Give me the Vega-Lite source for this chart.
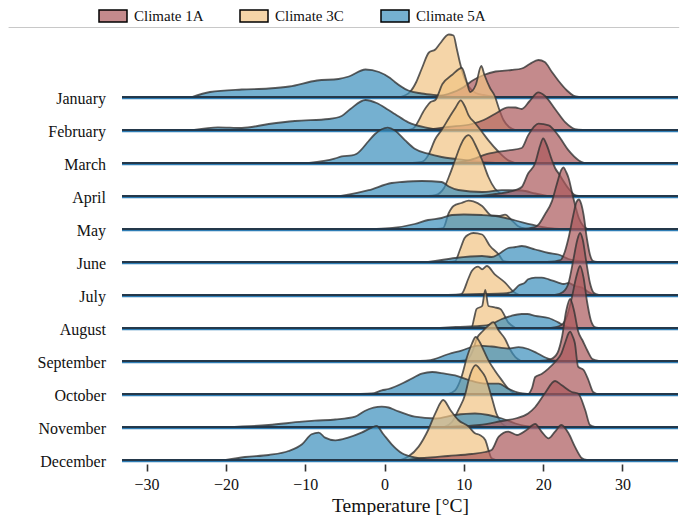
{
"$schema": "https://vega.github.io/schema/vega-lite/v6.json",
"padding": {"left": 7, "top": 0, "right": 0, "bottom": 0},
"bounds": "flush",
"config": {"view": {"stroke": null}, "font": "Liberation Serif"},
"data": {"values": [
{"m":"January","c":"Climate 5A","t":-24.3,"d":0},{"m":"January","c":"Climate 5A","t":-22,"d":0.05},{"m":"January","c":"Climate 5A","t":-18,"d":0.075},{"m":"January","c":"Climate 5A","t":-14.6,"d":0.085},{"m":"January","c":"Climate 5A","t":-12,"d":0.105},{"m":"January","c":"Climate 5A","t":-8.5,"d":0.165},{"m":"January","c":"Climate 5A","t":-5.8,"d":0.18},{"m":"January","c":"Climate 5A","t":-4.5,"d":0.205},{"m":"January","c":"Climate 5A","t":-2.4,"d":0.275},{"m":"January","c":"Climate 5A","t":-0.7,"d":0.25},{"m":"January","c":"Climate 5A","t":0.7,"d":0.19},{"m":"January","c":"Climate 5A","t":1.3,"d":0.15},{"m":"January","c":"Climate 5A","t":3,"d":0.065},{"m":"January","c":"Climate 5A","t":4.7,"d":0.035},{"m":"January","c":"Climate 5A","t":6.8,"d":0.015},{"m":"January","c":"Climate 5A","t":8.5,"d":0},
{"m":"January","c":"Climate 3C","t":2,"d":0},{"m":"January","c":"Climate 3C","t":3.2,"d":0.05},{"m":"January","c":"Climate 3C","t":4,"d":0.15},{"m":"January","c":"Climate 3C","t":4.7,"d":0.285},{"m":"January","c":"Climate 3C","t":5.6,"d":0.445},{"m":"January","c":"Climate 3C","t":6.4,"d":0.475},{"m":"January","c":"Climate 3C","t":7,"d":0.535},{"m":"January","c":"Climate 3C","t":8.1,"d":0.625},{"m":"January","c":"Climate 3C","t":8.7,"d":0.615},{"m":"January","c":"Climate 3C","t":9.1,"d":0.485},{"m":"January","c":"Climate 3C","t":9.5,"d":0.345},{"m":"January","c":"Climate 3C","t":10.1,"d":0.185},{"m":"January","c":"Climate 3C","t":10.7,"d":0.095},{"m":"January","c":"Climate 3C","t":11.5,"d":0.04},{"m":"January","c":"Climate 3C","t":12.5,"d":0.02},{"m":"January","c":"Climate 3C","t":14,"d":0},
{"m":"January","c":"Climate 1A","t":6,"d":0},{"m":"January","c":"Climate 1A","t":8,"d":0.03},{"m":"January","c":"Climate 1A","t":10,"d":0.1},{"m":"January","c":"Climate 1A","t":11,"d":0.16},{"m":"January","c":"Climate 1A","t":12.5,"d":0.22},{"m":"January","c":"Climate 1A","t":14,"d":0.255},{"m":"January","c":"Climate 1A","t":16,"d":0.27},{"m":"January","c":"Climate 1A","t":17.3,"d":0.285},{"m":"January","c":"Climate 1A","t":18.3,"d":0.33},{"m":"January","c":"Climate 1A","t":19.4,"d":0.37},{"m":"January","c":"Climate 1A","t":20.2,"d":0.35},{"m":"January","c":"Climate 1A","t":21.1,"d":0.25},{"m":"January","c":"Climate 1A","t":21.9,"d":0.165},{"m":"January","c":"Climate 1A","t":23,"d":0.065},{"m":"January","c":"Climate 1A","t":23.8,"d":0.015},{"m":"January","c":"Climate 1A","t":24.5,"d":0},
{"m":"February","c":"Climate 5A","t":-24,"d":0},{"m":"February","c":"Climate 5A","t":-21,"d":0.026},{"m":"February","c":"Climate 5A","t":-18,"d":0.02},{"m":"February","c":"Climate 5A","t":-14.6,"d":0.06},{"m":"February","c":"Climate 5A","t":-11.3,"d":0.09},{"m":"February","c":"Climate 5A","t":-7,"d":0.11},{"m":"February","c":"Climate 5A","t":-5.4,"d":0.14},{"m":"February","c":"Climate 5A","t":-4.3,"d":0.21},{"m":"February","c":"Climate 5A","t":-2.4,"d":0.3},{"m":"February","c":"Climate 5A","t":-1,"d":0.27},{"m":"February","c":"Climate 5A","t":0.5,"d":0.2},{"m":"February","c":"Climate 5A","t":1.3,"d":0.16},{"m":"February","c":"Climate 5A","t":3,"d":0.076},{"m":"February","c":"Climate 5A","t":5.1,"d":0.026},{"m":"February","c":"Climate 5A","t":7.2,"d":0.003},{"m":"February","c":"Climate 5A","t":8,"d":0},
{"m":"February","c":"Climate 3C","t":3,"d":0},{"m":"February","c":"Climate 3C","t":3.6,"d":0.015},{"m":"February","c":"Climate 3C","t":5.1,"d":0.21},{"m":"February","c":"Climate 3C","t":5.8,"d":0.28},{"m":"February","c":"Climate 3C","t":6.4,"d":0.3},{"m":"February","c":"Climate 3C","t":7.3,"d":0.46},{"m":"February","c":"Climate 3C","t":8.5,"d":0.55},{"m":"February","c":"Climate 3C","t":9.75,"d":0.62},{"m":"February","c":"Climate 3C","t":10.3,"d":0.5},{"m":"February","c":"Climate 3C","t":10.8,"d":0.38},{"m":"February","c":"Climate 3C","t":11.5,"d":0.45},{"m":"February","c":"Climate 3C","t":12.2,"d":0.64},{"m":"February","c":"Climate 3C","t":12.6,"d":0.55},{"m":"February","c":"Climate 3C","t":13.3,"d":0.42},{"m":"February","c":"Climate 3C","t":13.9,"d":0.34},{"m":"February","c":"Climate 3C","t":14.4,"d":0.22},{"m":"February","c":"Climate 3C","t":15,"d":0.1},{"m":"February","c":"Climate 3C","t":15.7,"d":0.03},{"m":"February","c":"Climate 3C","t":16.5,"d":0},
{"m":"February","c":"Climate 1A","t":5,"d":0},{"m":"February","c":"Climate 1A","t":8,"d":0.03},{"m":"February","c":"Climate 1A","t":11,"d":0.06},{"m":"February","c":"Climate 1A","t":12.5,"d":0.1},{"m":"February","c":"Climate 1A","t":13.9,"d":0.16},{"m":"February","c":"Climate 1A","t":15.6,"d":0.226},{"m":"February","c":"Climate 1A","t":16.5,"d":0.225},{"m":"February","c":"Climate 1A","t":17.3,"d":0.21},{"m":"February","c":"Climate 1A","t":18.3,"d":0.29},{"m":"February","c":"Climate 1A","t":19.4,"d":0.376},{"m":"February","c":"Climate 1A","t":20.2,"d":0.343},{"m":"February","c":"Climate 1A","t":21.5,"d":0.21},{"m":"February","c":"Climate 1A","t":22.8,"d":0.076},{"m":"February","c":"Climate 1A","t":24,"d":0.01},{"m":"February","c":"Climate 1A","t":25,"d":0},
{"m":"March","c":"Climate 5A","t":-9.5,"d":0},{"m":"March","c":"Climate 5A","t":-6.3,"d":0.043},{"m":"March","c":"Climate 5A","t":-5.4,"d":0.066},{"m":"March","c":"Climate 5A","t":-4.1,"d":0.076},{"m":"March","c":"Climate 5A","t":-3.5,"d":0.093},{"m":"March","c":"Climate 5A","t":-2,"d":0.22},{"m":"March","c":"Climate 5A","t":-1.2,"d":0.29},{"m":"March","c":"Climate 5A","t":0.4,"d":0.353},{"m":"March","c":"Climate 5A","t":1.3,"d":0.326},{"m":"March","c":"Climate 5A","t":2.6,"d":0.226},{"m":"March","c":"Climate 5A","t":3.8,"d":0.143},{"m":"March","c":"Climate 5A","t":5.5,"d":0.093},{"m":"March","c":"Climate 5A","t":7.2,"d":0.06},{"m":"March","c":"Climate 5A","t":9,"d":0.04},{"m":"March","c":"Climate 5A","t":11,"d":0.02},{"m":"March","c":"Climate 5A","t":14,"d":0},
{"m":"March","c":"Climate 3C","t":3.5,"d":0},{"m":"March","c":"Climate 3C","t":4.7,"d":0.01},{"m":"March","c":"Climate 3C","t":5.5,"d":0.076},{"m":"March","c":"Climate 3C","t":6.4,"d":0.24},{"m":"March","c":"Climate 3C","t":7.2,"d":0.33},{"m":"March","c":"Climate 3C","t":8.2,"d":0.46},{"m":"March","c":"Climate 3C","t":9,"d":0.56},{"m":"March","c":"Climate 3C","t":9.6,"d":0.626},{"m":"March","c":"Climate 3C","t":10.1,"d":0.57},{"m":"March","c":"Climate 3C","t":10.6,"d":0.476},{"m":"March","c":"Climate 3C","t":11.4,"d":0.4},{"m":"March","c":"Climate 3C","t":12.3,"d":0.31},{"m":"March","c":"Climate 3C","t":13.1,"d":0.226},{"m":"March","c":"Climate 3C","t":14.4,"d":0.11},{"m":"March","c":"Climate 3C","t":15.6,"d":0.026},{"m":"March","c":"Climate 3C","t":16.5,"d":0},
{"m":"March","c":"Climate 1A","t":9,"d":0},{"m":"March","c":"Climate 1A","t":10.6,"d":0.026},{"m":"March","c":"Climate 1A","t":13.1,"d":0.093},{"m":"March","c":"Climate 1A","t":15.6,"d":0.126},{"m":"March","c":"Climate 1A","t":17.3,"d":0.15},{"m":"March","c":"Climate 1A","t":18.1,"d":0.276},{"m":"March","c":"Climate 1A","t":19.4,"d":0.393},{"m":"March","c":"Climate 1A","t":20.7,"d":0.376},{"m":"March","c":"Climate 1A","t":21.9,"d":0.276},{"m":"March","c":"Climate 1A","t":23.2,"d":0.126},{"m":"March","c":"Climate 1A","t":24.5,"d":0.026},{"m":"March","c":"Climate 1A","t":25.2,"d":0},
{"m":"April","c":"Climate 5A","t":-5.5,"d":0},{"m":"April","c":"Climate 5A","t":-2,"d":0.058},{"m":"April","c":"Climate 5A","t":0.9,"d":0.13},{"m":"April","c":"Climate 5A","t":2.2,"d":0.14},{"m":"April","c":"Climate 5A","t":4.7,"d":0.15},{"m":"April","c":"Climate 5A","t":7.2,"d":0.14},{"m":"April","c":"Climate 5A","t":8.1,"d":0.095},{"m":"April","c":"Climate 5A","t":9.3,"d":0.06},{"m":"April","c":"Climate 5A","t":12.3,"d":0.04},{"m":"April","c":"Climate 5A","t":14.8,"d":0.058},{"m":"April","c":"Climate 5A","t":17.3,"d":0.055},{"m":"April","c":"Climate 5A","t":19,"d":0.025},{"m":"April","c":"Climate 5A","t":20.5,"d":0},
{"m":"April","c":"Climate 3C","t":5.5,"d":0},{"m":"April","c":"Climate 3C","t":6.4,"d":0.008},{"m":"April","c":"Climate 3C","t":7.5,"d":0.08},{"m":"April","c":"Climate 3C","t":8.1,"d":0.19},{"m":"April","c":"Climate 3C","t":8.9,"d":0.36},{"m":"April","c":"Climate 3C","t":9.5,"d":0.49},{"m":"April","c":"Climate 3C","t":10,"d":0.57},{"m":"April","c":"Climate 3C","t":10.6,"d":0.608},{"m":"April","c":"Climate 3C","t":11,"d":0.58},{"m":"April","c":"Climate 3C","t":11.4,"d":0.52},{"m":"April","c":"Climate 3C","t":12.3,"d":0.36},{"m":"April","c":"Climate 3C","t":13.1,"d":0.19},{"m":"April","c":"Climate 3C","t":13.9,"d":0.075},{"m":"April","c":"Climate 3C","t":14.6,"d":0.025},{"m":"April","c":"Climate 3C","t":15.5,"d":0},
{"m":"April","c":"Climate 1A","t":12,"d":0},{"m":"April","c":"Climate 1A","t":14,"d":0.02},{"m":"April","c":"Climate 1A","t":16.5,"d":0.058},{"m":"April","c":"Climate 1A","t":17.3,"d":0.09},{"m":"April","c":"Climate 1A","t":18.1,"d":0.225},{"m":"April","c":"Climate 1A","t":19,"d":0.33},{"m":"April","c":"Climate 1A","t":19.6,"d":0.5},{"m":"April","c":"Climate 1A","t":20,"d":0.575},{"m":"April","c":"Climate 1A","t":20.4,"d":0.52},{"m":"April","c":"Climate 1A","t":21.1,"d":0.36},{"m":"April","c":"Climate 1A","t":21.5,"d":0.28},{"m":"April","c":"Climate 1A","t":22,"d":0.22},{"m":"April","c":"Climate 1A","t":23.2,"d":0.075},{"m":"April","c":"Climate 1A","t":24,"d":0.01},{"m":"April","c":"Climate 1A","t":24.5,"d":0},
{"m":"May","c":"Climate 5A","t":-1,"d":0},{"m":"May","c":"Climate 5A","t":1,"d":0.01},{"m":"May","c":"Climate 5A","t":3.8,"d":0.05},{"m":"May","c":"Climate 5A","t":5.5,"d":0.09},{"m":"May","c":"Climate 5A","t":7.2,"d":0.11},{"m":"May","c":"Climate 5A","t":8.5,"d":0.14},{"m":"May","c":"Climate 5A","t":10,"d":0.145},{"m":"May","c":"Climate 5A","t":12.3,"d":0.14},{"m":"May","c":"Climate 5A","t":14.4,"d":0.125},{"m":"May","c":"Climate 5A","t":16.5,"d":0.085},{"m":"May","c":"Climate 5A","t":18.6,"d":0.043},{"m":"May","c":"Climate 5A","t":20.2,"d":0.015},{"m":"May","c":"Climate 5A","t":22,"d":0},
{"m":"May","c":"Climate 3C","t":6.5,"d":0},{"m":"May","c":"Climate 3C","t":7.4,"d":0.01},{"m":"May","c":"Climate 3C","t":8.1,"d":0.16},{"m":"May","c":"Climate 3C","t":8.7,"d":0.23},{"m":"May","c":"Climate 3C","t":9.7,"d":0.26},{"m":"May","c":"Climate 3C","t":10.6,"d":0.283},{"m":"May","c":"Climate 3C","t":11.2,"d":0.276},{"m":"May","c":"Climate 3C","t":12.3,"d":0.23},{"m":"May","c":"Climate 3C","t":13.5,"d":0.135},{"m":"May","c":"Climate 3C","t":14.4,"d":0.13},{"m":"May","c":"Climate 3C","t":15.2,"d":0.143},{"m":"May","c":"Climate 3C","t":16,"d":0.09},{"m":"May","c":"Climate 3C","t":16.8,"d":0.03},{"m":"May","c":"Climate 3C","t":17.8,"d":0},
{"m":"May","c":"Climate 1A","t":17,"d":0},{"m":"May","c":"Climate 1A","t":19,"d":0.02},{"m":"May","c":"Climate 1A","t":19.4,"d":0.043},{"m":"May","c":"Climate 1A","t":20.2,"d":0.143},{"m":"May","c":"Climate 1A","t":21.1,"d":0.276},{"m":"May","c":"Climate 1A","t":21.7,"d":0.443},{"m":"May","c":"Climate 1A","t":22.3,"d":0.593},{"m":"May","c":"Climate 1A","t":22.55,"d":0.616},{"m":"May","c":"Climate 1A","t":22.9,"d":0.57},{"m":"May","c":"Climate 1A","t":23.2,"d":0.51},{"m":"May","c":"Climate 1A","t":23.8,"d":0.31},{"m":"May","c":"Climate 1A","t":24.5,"d":0.11},{"m":"May","c":"Climate 1A","t":25.1,"d":0.026},{"m":"May","c":"Climate 1A","t":25.6,"d":0},
{"m":"June","c":"Climate 5A","t":5.5,"d":0},{"m":"June","c":"Climate 5A","t":6.4,"d":0.01},{"m":"June","c":"Climate 5A","t":8.9,"d":0.04},{"m":"June","c":"Climate 5A","t":12.3,"d":0.06},{"m":"June","c":"Climate 5A","t":13.5,"d":0.05},{"m":"June","c":"Climate 5A","t":14.4,"d":0.08},{"m":"June","c":"Climate 5A","t":15.6,"d":0.14},{"m":"June","c":"Climate 5A","t":16.5,"d":0.15},{"m":"June","c":"Climate 5A","t":17.3,"d":0.16},{"m":"June","c":"Climate 5A","t":19,"d":0.125},{"m":"June","c":"Climate 5A","t":20.7,"d":0.09},{"m":"June","c":"Climate 5A","t":21.9,"d":0.075},{"m":"June","c":"Climate 5A","t":23.2,"d":0.03},{"m":"June","c":"Climate 5A","t":24.5,"d":0.01},{"m":"June","c":"Climate 5A","t":26,"d":0},
{"m":"June","c":"Climate 3C","t":8,"d":0},{"m":"June","c":"Climate 3C","t":8.9,"d":0.01},{"m":"June","c":"Climate 3C","t":9.5,"d":0.12},{"m":"June","c":"Climate 3C","t":10.1,"d":0.24},{"m":"June","c":"Climate 3C","t":10.6,"d":0.275},{"m":"June","c":"Climate 3C","t":11.2,"d":0.29},{"m":"June","c":"Climate 3C","t":12.3,"d":0.275},{"m":"June","c":"Climate 3C","t":13.3,"d":0.16},{"m":"June","c":"Climate 3C","t":14.4,"d":0.075},{"m":"June","c":"Climate 3C","t":15,"d":0.01},{"m":"June","c":"Climate 3C","t":15.8,"d":0},
{"m":"June","c":"Climate 1A","t":20.5,"d":0},{"m":"June","c":"Climate 1A","t":22.2,"d":0.02},{"m":"June","c":"Climate 1A","t":22.6,"d":0.073},{"m":"June","c":"Climate 1A","t":23.2,"d":0.24},{"m":"June","c":"Climate 1A","t":23.8,"d":0.47},{"m":"June","c":"Climate 1A","t":24.2,"d":0.6},{"m":"June","c":"Climate 1A","t":24.5,"d":0.625},{"m":"June","c":"Climate 1A","t":24.8,"d":0.58},{"m":"June","c":"Climate 1A","t":25.1,"d":0.47},{"m":"June","c":"Climate 1A","t":25.5,"d":0.24},{"m":"June","c":"Climate 1A","t":25.9,"d":0.073},{"m":"June","c":"Climate 1A","t":26.3,"d":0.01},{"m":"June","c":"Climate 1A","t":26.8,"d":0},
{"m":"July","c":"Climate 5A","t":8,"d":0},{"m":"July","c":"Climate 5A","t":12,"d":0.01},{"m":"July","c":"Climate 5A","t":15,"d":0.015},{"m":"July","c":"Climate 5A","t":16,"d":0.03},{"m":"July","c":"Climate 5A","t":17,"d":0.1},{"m":"July","c":"Climate 5A","t":17.7,"d":0.124},{"m":"July","c":"Climate 5A","t":18.1,"d":0.157},{"m":"July","c":"Climate 5A","t":19,"d":0.174},{"m":"July","c":"Climate 5A","t":19.8,"d":0.174},{"m":"July","c":"Climate 5A","t":20.7,"d":0.157},{"m":"July","c":"Climate 5A","t":21.9,"d":0.124},{"m":"July","c":"Climate 5A","t":22.6,"d":0.11},{"m":"July","c":"Climate 5A","t":23.2,"d":0.12},{"m":"July","c":"Climate 5A","t":24,"d":0.09},{"m":"July","c":"Climate 5A","t":24.9,"d":0.074},{"m":"July","c":"Climate 5A","t":25.7,"d":0.03},{"m":"July","c":"Climate 5A","t":26.5,"d":0},
{"m":"July","c":"Climate 3C","t":9,"d":0},{"m":"July","c":"Climate 3C","t":9.7,"d":0.01},{"m":"July","c":"Climate 3C","t":10.6,"d":0.17},{"m":"July","c":"Climate 3C","t":11,"d":0.24},{"m":"July","c":"Climate 3C","t":11.8,"d":0.284},{"m":"July","c":"Climate 3C","t":12.3,"d":0.257},{"m":"July","c":"Climate 3C","t":12.9,"d":0.29},{"m":"July","c":"Climate 3C","t":13.9,"d":0.207},{"m":"July","c":"Climate 3C","t":15.2,"d":0.124},{"m":"July","c":"Climate 3C","t":16.3,"d":0.03},{"m":"July","c":"Climate 3C","t":17,"d":0},
{"m":"July","c":"Climate 1A","t":21.5,"d":0},{"m":"July","c":"Climate 1A","t":22.5,"d":0.03},{"m":"July","c":"Climate 1A","t":23.2,"d":0.12},{"m":"July","c":"Climate 1A","t":23.8,"d":0.35},{"m":"July","c":"Climate 1A","t":24.3,"d":0.55},{"m":"July","c":"Climate 1A","t":24.65,"d":0.62},{"m":"July","c":"Climate 1A","t":25,"d":0.55},{"m":"July","c":"Climate 1A","t":25.4,"d":0.35},{"m":"July","c":"Climate 1A","t":25.9,"d":0.12},{"m":"July","c":"Climate 1A","t":26.4,"d":0.02},{"m":"July","c":"Climate 1A","t":27,"d":0},
{"m":"August","c":"Climate 5A","t":7,"d":0},{"m":"August","c":"Climate 5A","t":9,"d":0.01},{"m":"August","c":"Climate 5A","t":12,"d":0.02},{"m":"August","c":"Climate 5A","t":13.5,"d":0.04},{"m":"August","c":"Climate 5A","t":14.8,"d":0.09},{"m":"August","c":"Climate 5A","t":16,"d":0.122},{"m":"August","c":"Climate 5A","t":17.3,"d":0.14},{"m":"August","c":"Climate 5A","t":18,"d":0.14},{"m":"August","c":"Climate 5A","t":19,"d":0.122},{"m":"August","c":"Climate 5A","t":20.7,"d":0.1},{"m":"August","c":"Climate 5A","t":21.9,"d":0.056},{"m":"August","c":"Climate 5A","t":22.6,"d":0.025},{"m":"August","c":"Climate 5A","t":24,"d":0},
{"m":"August","c":"Climate 3C","t":10.5,"d":0},{"m":"August","c":"Climate 3C","t":11,"d":0.01},{"m":"August","c":"Climate 3C","t":11.3,"d":0.1},{"m":"August","c":"Climate 3C","t":11.6,"d":0.19},{"m":"August","c":"Climate 3C","t":12.3,"d":0.22},{"m":"August","c":"Climate 3C","t":12.7,"d":0.38},{"m":"August","c":"Climate 3C","t":13.1,"d":0.22},{"m":"August","c":"Climate 3C","t":13.9,"d":0.206},{"m":"August","c":"Climate 3C","t":14.6,"d":0.19},{"m":"August","c":"Climate 3C","t":15.6,"d":0.056},{"m":"August","c":"Climate 3C","t":16.5,"d":0},
{"m":"August","c":"Climate 1A","t":21,"d":0},{"m":"August","c":"Climate 1A","t":22.3,"d":0.03},{"m":"August","c":"Climate 1A","t":23,"d":0.12},{"m":"August","c":"Climate 1A","t":23.6,"d":0.3},{"m":"August","c":"Climate 1A","t":24.2,"d":0.52},{"m":"August","c":"Climate 1A","t":24.65,"d":0.62},{"m":"August","c":"Climate 1A","t":25.1,"d":0.5},{"m":"August","c":"Climate 1A","t":25.5,"d":0.28},{"m":"August","c":"Climate 1A","t":26,"d":0.08},{"m":"August","c":"Climate 1A","t":26.5,"d":0.01},{"m":"August","c":"Climate 1A","t":27,"d":0},
{"m":"September","c":"Climate 5A","t":4,"d":0},{"m":"September","c":"Climate 5A","t":5.5,"d":0.005},{"m":"September","c":"Climate 5A","t":8.1,"d":0.07},{"m":"September","c":"Climate 5A","t":9.7,"d":0.104},{"m":"September","c":"Climate 5A","t":11.8,"d":0.154},{"m":"September","c":"Climate 5A","t":13.5,"d":0.145},{"m":"September","c":"Climate 5A","t":15.6,"d":0.125},{"m":"September","c":"Climate 5A","t":16.9,"d":0.138},{"m":"September","c":"Climate 5A","t":18.1,"d":0.12},{"m":"September","c":"Climate 5A","t":19.2,"d":0.08},{"m":"September","c":"Climate 5A","t":20.2,"d":0.038},{"m":"September","c":"Climate 5A","t":21.5,"d":0.005},{"m":"September","c":"Climate 5A","t":22.5,"d":0},
{"m":"September","c":"Climate 3C","t":9.5,"d":0},{"m":"September","c":"Climate 3C","t":10.5,"d":0.02},{"m":"September","c":"Climate 3C","t":11.2,"d":0.12},{"m":"September","c":"Climate 3C","t":11.6,"d":0.22},{"m":"September","c":"Climate 3C","t":12.4,"d":0.3},{"m":"September","c":"Climate 3C","t":13.1,"d":0.354},{"m":"September","c":"Climate 3C","t":13.7,"d":0.388},{"m":"September","c":"Climate 3C","t":14.4,"d":0.304},{"m":"September","c":"Climate 3C","t":15.2,"d":0.22},{"m":"September","c":"Climate 3C","t":15.8,"d":0.12},{"m":"September","c":"Climate 3C","t":16.5,"d":0.038},{"m":"September","c":"Climate 3C","t":17.2,"d":0},
{"m":"September","c":"Climate 1A","t":19.5,"d":0},{"m":"September","c":"Climate 1A","t":21,"d":0.02},{"m":"September","c":"Climate 1A","t":21.8,"d":0.08},{"m":"September","c":"Climate 1A","t":22.4,"d":0.25},{"m":"September","c":"Climate 1A","t":22.9,"d":0.5},{"m":"September","c":"Climate 1A","t":23.4,"d":0.62},{"m":"September","c":"Climate 1A","t":23.9,"d":0.5},{"m":"September","c":"Climate 1A","t":24.4,"d":0.3},{"m":"September","c":"Climate 1A","t":25,"d":0.2},{"m":"September","c":"Climate 1A","t":25.6,"d":0.1},{"m":"September","c":"Climate 1A","t":26.2,"d":0.02},{"m":"September","c":"Climate 1A","t":27,"d":0},
{"m":"October","c":"Climate 5A","t":-3,"d":0},{"m":"October","c":"Climate 5A","t":-1.6,"d":0.005},{"m":"October","c":"Climate 5A","t":-0.35,"d":0.036},{"m":"October","c":"Climate 5A","t":0.5,"d":0.05},{"m":"October","c":"Climate 5A","t":3,"d":0.136},{"m":"October","c":"Climate 5A","t":4.7,"d":0.203},{"m":"October","c":"Climate 5A","t":6,"d":0.22},{"m":"October","c":"Climate 5A","t":7.6,"d":0.203},{"m":"October","c":"Climate 5A","t":8.9,"d":0.186},{"m":"October","c":"Climate 5A","t":10.6,"d":0.14},{"m":"October","c":"Climate 5A","t":12.7,"d":0.103},{"m":"October","c":"Climate 5A","t":14.4,"d":0.103},{"m":"October","c":"Climate 5A","t":15.6,"d":0.053},{"m":"October","c":"Climate 5A","t":17,"d":0.01},{"m":"October","c":"Climate 5A","t":18,"d":0},
{"m":"October","c":"Climate 3C","t":8,"d":0},{"m":"October","c":"Climate 3C","t":8.9,"d":0.036},{"m":"October","c":"Climate 3C","t":9.7,"d":0.17},{"m":"October","c":"Climate 3C","t":10.4,"d":0.37},{"m":"October","c":"Climate 3C","t":11,"d":0.5},{"m":"October","c":"Climate 3C","t":11.5,"d":0.57},{"m":"October","c":"Climate 3C","t":12,"d":0.52},{"m":"October","c":"Climate 3C","t":12.5,"d":0.436},{"m":"October","c":"Climate 3C","t":13.1,"d":0.336},{"m":"October","c":"Climate 3C","t":13.9,"d":0.236},{"m":"October","c":"Climate 3C","t":14.8,"d":0.136},{"m":"October","c":"Climate 3C","t":15.6,"d":0.053},{"m":"October","c":"Climate 3C","t":16.5,"d":0},
{"m":"October","c":"Climate 1A","t":18.2,"d":0},{"m":"October","c":"Climate 1A","t":18.6,"d":0.06},{"m":"October","c":"Climate 1A","t":19,"d":0.17},{"m":"October","c":"Climate 1A","t":19.8,"d":0.2},{"m":"October","c":"Climate 1A","t":20.7,"d":0.257},{"m":"October","c":"Climate 1A","t":21.5,"d":0.32},{"m":"October","c":"Climate 1A","t":22.3,"d":0.407},{"m":"October","c":"Climate 1A","t":22.8,"d":0.52},{"m":"October","c":"Climate 1A","t":23.2,"d":0.607},{"m":"October","c":"Climate 1A","t":23.4,"d":0.624},{"m":"October","c":"Climate 1A","t":23.7,"d":0.58},{"m":"October","c":"Climate 1A","t":24,"d":0.507},{"m":"October","c":"Climate 1A","t":24.4,"d":0.274},{"m":"October","c":"Climate 1A","t":25.1,"d":0.24},{"m":"October","c":"Climate 1A","t":25.7,"d":0.14},{"m":"October","c":"Climate 1A","t":26.3,"d":0.02},{"m":"October","c":"Climate 1A","t":26.8,"d":0},
{"m":"November","c":"Climate 5A","t":-20,"d":0},{"m":"November","c":"Climate 5A","t":-14.6,"d":0.02},{"m":"November","c":"Climate 5A","t":-10.4,"d":0.053},{"m":"November","c":"Climate 5A","t":-8.8,"d":0.063},{"m":"November","c":"Climate 5A","t":-6.2,"d":0.075},{"m":"November","c":"Climate 5A","t":-3.7,"d":0.103},{"m":"November","c":"Climate 5A","t":-2.5,"d":0.16},{"m":"November","c":"Climate 5A","t":-0.35,"d":0.203},{"m":"November","c":"Climate 5A","t":0.5,"d":0.195},{"m":"November","c":"Climate 5A","t":1.3,"d":0.17},{"m":"November","c":"Climate 5A","t":3.8,"d":0.103},{"m":"November","c":"Climate 5A","t":6.4,"d":0.085},{"m":"November","c":"Climate 5A","t":8.9,"d":0.12},{"m":"November","c":"Climate 5A","t":11.4,"d":0.135},{"m":"November","c":"Climate 5A","t":13.1,"d":0.12},{"m":"November","c":"Climate 5A","t":14.8,"d":0.085},{"m":"November","c":"Climate 5A","t":16.5,"d":0.035},{"m":"November","c":"Climate 5A","t":17.7,"d":0.01},{"m":"November","c":"Climate 5A","t":19,"d":0},
{"m":"November","c":"Climate 3C","t":7.5,"d":0},{"m":"November","c":"Climate 3C","t":8.5,"d":0.05},{"m":"November","c":"Climate 3C","t":9.3,"d":0.168},{"m":"November","c":"Climate 3C","t":10.2,"d":0.335},{"m":"November","c":"Climate 3C","t":10.6,"d":0.468},{"m":"November","c":"Climate 3C","t":11.5,"d":0.618},{"m":"November","c":"Climate 3C","t":12.1,"d":0.57},{"m":"November","c":"Climate 3C","t":12.7,"d":0.5},{"m":"November","c":"Climate 3C","t":13.5,"d":0.3},{"m":"November","c":"Climate 3C","t":14.1,"d":0.135},{"m":"November","c":"Climate 3C","t":14.8,"d":0.035},{"m":"November","c":"Climate 3C","t":15.5,"d":0},
{"m":"November","c":"Climate 1A","t":8,"d":0},{"m":"November","c":"Climate 1A","t":12,"d":0.02},{"m":"November","c":"Climate 1A","t":14.8,"d":0.06},{"m":"November","c":"Climate 1A","t":16.5,"d":0.085},{"m":"November","c":"Climate 1A","t":18.1,"d":0.135},{"m":"November","c":"Climate 1A","t":19,"d":0.2},{"m":"November","c":"Climate 1A","t":20.2,"d":0.335},{"m":"November","c":"Climate 1A","t":21.5,"d":0.46},{"m":"November","c":"Climate 1A","t":22.3,"d":0.42},{"m":"November","c":"Climate 1A","t":23.6,"d":0.35},{"m":"November","c":"Climate 1A","t":24.4,"d":0.335},{"m":"November","c":"Climate 1A","t":25.3,"d":0.17},{"m":"November","c":"Climate 1A","t":25.9,"d":0.02},{"m":"November","c":"Climate 1A","t":26.5,"d":0},
{"m":"December","c":"Climate 5A","t":-20,"d":0},{"m":"December","c":"Climate 5A","t":-17.6,"d":0.03},{"m":"December","c":"Climate 5A","t":-14.6,"d":0.05},{"m":"December","c":"Climate 5A","t":-12.1,"d":0.09},{"m":"December","c":"Climate 5A","t":-10.4,"d":0.157},{"m":"December","c":"Climate 5A","t":-9.2,"d":0.257},{"m":"December","c":"Climate 5A","t":-8.3,"d":0.274},{"m":"December","c":"Climate 5A","t":-7.5,"d":0.224},{"m":"December","c":"Climate 5A","t":-6.2,"d":0.197},{"m":"December","c":"Climate 5A","t":-4.6,"d":0.224},{"m":"December","c":"Climate 5A","t":-2.9,"d":0.274},{"m":"December","c":"Climate 5A","t":-1.6,"d":0.324},{"m":"December","c":"Climate 5A","t":-1,"d":0.34},{"m":"December","c":"Climate 5A","t":-0.14,"d":0.257},{"m":"December","c":"Climate 5A","t":0.9,"d":0.157},{"m":"December","c":"Climate 5A","t":2.2,"d":0.067},{"m":"December","c":"Climate 5A","t":3.8,"d":0.027},{"m":"December","c":"Climate 5A","t":5.5,"d":0.01},{"m":"December","c":"Climate 5A","t":7,"d":0},
{"m":"December","c":"Climate 3C","t":2,"d":0},{"m":"December","c":"Climate 3C","t":3,"d":0.034},{"m":"December","c":"Climate 3C","t":4.3,"d":0.134},{"m":"December","c":"Climate 3C","t":5.5,"d":0.3},{"m":"December","c":"Climate 3C","t":6.4,"d":0.467},{"m":"December","c":"Climate 3C","t":7.4,"d":0.6},{"m":"December","c":"Climate 3C","t":8.3,"d":0.5},{"m":"December","c":"Climate 3C","t":9.3,"d":0.4},{"m":"December","c":"Climate 3C","t":10.6,"d":0.334},{"m":"December","c":"Climate 3C","t":11.4,"d":0.267},{"m":"December","c":"Climate 3C","t":12,"d":0.25},{"m":"December","c":"Climate 3C","t":12.7,"d":0.2},{"m":"December","c":"Climate 3C","t":13.1,"d":0.1},{"m":"December","c":"Climate 3C","t":13.5,"d":0.017},{"m":"December","c":"Climate 3C","t":14,"d":0},
{"m":"December","c":"Climate 1A","t":3,"d":0},{"m":"December","c":"Climate 1A","t":5,"d":0.02},{"m":"December","c":"Climate 1A","t":8,"d":0.04},{"m":"December","c":"Climate 1A","t":11,"d":0.06},{"m":"December","c":"Climate 1A","t":12.7,"d":0.08},{"m":"December","c":"Climate 1A","t":13.5,"d":0.1},{"m":"December","c":"Climate 1A","t":14.4,"d":0.234},{"m":"December","c":"Climate 1A","t":15.6,"d":0.284},{"m":"December","c":"Climate 1A","t":16.7,"d":0.25},{"m":"December","c":"Climate 1A","t":17.9,"d":0.3},{"m":"December","c":"Climate 1A","t":19,"d":0.36},{"m":"December","c":"Climate 1A","t":19.8,"d":0.284},{"m":"December","c":"Climate 1A","t":20.7,"d":0.217},{"m":"December","c":"Climate 1A","t":21.5,"d":0.284},{"m":"December","c":"Climate 1A","t":22.3,"d":0.35},{"m":"December","c":"Climate 1A","t":23.2,"d":0.267},{"m":"December","c":"Climate 1A","t":24,"d":0.134},{"m":"December","c":"Climate 1A","t":24.9,"d":0.017},{"m":"December","c":"Climate 1A","t":25.5,"d":0}
]},
"facet": {"row": {"field": "m", "type": "nominal", "title": null,
  "sort": ["January","February","March","April","May","June","July","August","September","October","November","December"],
  "header": {"labels": false}}},
"spacing": 0,
"spec": {
  "width": 556, "height": 33,
  "layer": [
    {"transform": [{"filter": "datum.c === 'Climate 3C'"}],
     "mark": {"type": "area", "interpolate": "monotone", "fillOpacity": 0.7, "stroke": "#333333", "strokeOpacity": 0.8, "strokeWidth": 1.8},
     "encoding": {
       "x": {"field": "t", "type": "quantitative", "scale": {"domain": [-33.1, 37], "nice": false, "zero": false},
             "axis": {"values": [-30,-20,-10,0,10,20,30], "title": "Temperature [°C]", "domain": false, "grid": false, "offset": 4, "tickSize": 7, "tickWidth": 1.6, "tickColor": "#333", "labelFontSize": 16, "labelFont": "Liberation Serif", "labelColor": "#111", "labelPadding": 5, "titleFontSize": 19.5, "titleFont": "Liberation Serif", "titleFontWeight": "normal", "titleColor": "#111", "titlePadding": 4}},
       "y": {"field": "d", "type": "quantitative", "scale": {"domain": [0, 0.63], "range": [33, -30], "nice": false, "zero": false}, "axis": null},
       "fill": {"field": "c", "type": "nominal", "scale": {"domain": ["Climate 1A","Climate 3C","Climate 5A"], "range": ["#ab585b","#f1c383","#3a8ebc"]},
                "legend": {"title": null, "orient": "none", "direction": "horizontal", "legendX": -24, "legendY": -63.5, "padding": 0, "columnPadding": 33, "labelOffset": 6, "labelFontSize": 15, "labelFont": "Liberation Serif", "labelColor": "#111", "symbolType": "M-1,-0.43H1V0.43H-1Z", "symbolSize": 784, "symbolStrokeColor": "black", "symbolStrokeWidth": 1.5, "symbolOpacity": 1, "gridAlign": "all",
                           "encode": {"symbols": {"update": {"fillOpacity": {"value": 0.7}, "stroke": {"value": "black"}, "strokeWidth": {"value": 1.5}}}}}}
     }},
    {"transform": [{"filter": "datum.c === 'Climate 5A'"}],
     "mark": {"type": "area", "interpolate": "monotone", "fillOpacity": 0.7, "stroke": "#333333", "strokeOpacity": 0.8, "strokeWidth": 1.8},
     "encoding": {
       "x": {"field": "t", "type": "quantitative"},
       "y": {"field": "d", "type": "quantitative"},
       "fill": {"field": "c", "type": "nominal"}
     }},
    {"transform": [{"filter": "datum.c === 'Climate 1A'"}],
     "mark": {"type": "area", "interpolate": "monotone", "fillOpacity": 0.7, "stroke": "#333333", "strokeOpacity": 0.8, "strokeWidth": 1.8},
     "encoding": {
       "x": {"field": "t", "type": "quantitative"},
       "y": {"field": "d", "type": "quantitative"},
       "fill": {"field": "c", "type": "nominal"}
     }},
    {"transform": [{"aggregate": [{"op": "count", "as": "n"}], "groupby": ["m"]}],
     "mark": {"type": "rule", "color": "#2e7db5", "strokeWidth": 1.4, "yOffset": 1.6},
     "encoding": {"x": {"datum": -33.1, "type": "quantitative"}, "x2": {"datum": 37}, "y": {"datum": 0, "type": "quantitative"}}},
    {"transform": [{"aggregate": [{"op": "count", "as": "n"}], "groupby": ["m"]}],
     "mark": {"type": "rule", "color": "#24384a", "strokeWidth": 2},
     "encoding": {"x": {"datum": -33.1, "type": "quantitative"}, "x2": {"datum": 37}, "y": {"datum": 0, "type": "quantitative"}}},
    {"transform": [{"aggregate": [{"op": "count", "as": "n"}], "groupby": ["m"]}],
     "mark": {"type": "text", "align": "right", "baseline": "middle", "dx": -16, "dy": 2, "fontSize": 16, "font": "Liberation Serif", "color": "#111"},
     "encoding": {"text": {"field": "m", "type": "nominal"}, "x": {"datum": -33.1, "type": "quantitative"}, "y": {"datum": 0, "type": "quantitative"}}},
    {"transform": [{"filter": "datum.m === 'January'"}, {"aggregate": [{"op": "count", "as": "n"}], "groupby": ["m"]}],
     "mark": {"type": "rule", "color": "#c8c8c8", "strokeWidth": 1.2},
     "encoding": {"x": {"datum": -47.4, "type": "quantitative"}, "x2": {"datum": 37.15}, "y": {"datum": 0.695, "type": "quantitative"}}}
  ]
}
}
